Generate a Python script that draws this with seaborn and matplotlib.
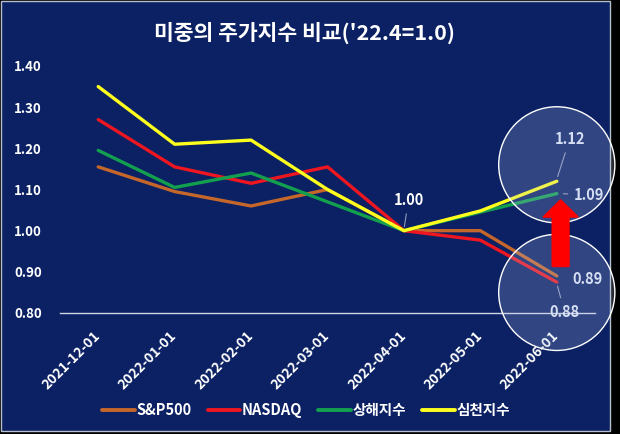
import numpy as np
import pandas as pd
import matplotlib
matplotlib.use("Agg")
import matplotlib.pyplot as plt
import matplotlib.patches as mpatches
import seaborn as sns

# 데이터 ('22.4 = 1.0 기준)
dates = ["2021-12-01", "2022-01-01", "2022-02-01", "2022-03-01",
         "2022-04-01", "2022-05-01", "2022-06-01"]
sp500 = [1.155, 1.095, 1.06, 1.10, 1.00, 1.00, 0.89]
nasdaq = [1.27, 1.155, 1.115, 1.155, 1.00, 0.977, 0.875]
shanghai = [1.195, 1.105, 1.14, 1.07, 1.00, 1.045, 1.09]
shenzhen = [1.35, 1.21, 1.22, 1.10, 1.00, 1.048, 1.12]
names = ["S&P500", "NASDAQ", "상해지수", "심천지수"]
colors = ["#c5662a", "#ee1620", "#13a04e", "#ffff1e"]
yticks = [0.80, 0.90, 1.00, 1.10, 1.20, 1.30, 1.40]

BG = "#0b2163"

df = pd.concat([
    pd.DataFrame({"date": dates, "value": v, "index": n})
    for n, v in zip(names, [sp500, nasdaq, shanghai, shenzhen])
])

sns.set_style("white")
plt.rcParams["font.family"] = ["Noto Sans CJK KR", "DejaVu Sans"]

fig = plt.figure(figsize=(6.2, 4.34), dpi=100, facecolor="black")
# 네이비 패널 (오른쪽/아래 검은 여백)
panel = mpatches.Rectangle((0.0015, 0.007), 609 / 620, 0.991,
                           transform=fig.transFigure, facecolor=BG,
                           edgecolor="#b8bfcc", linewidth=1.0, zorder=-10)
fig.add_artist(panel)

ax = fig.add_axes([60 / 620, (434 - 313) / 434, 535 / 620, (313 - 66) / 434])
ax.set_facecolor("none")
ax.set_zorder(1)

sns.lineplot(data=df, x="date", y="value", hue="index", hue_order=names,
             palette=colors, linewidth=2.4, sort=False, ax=ax, legend=True)

ax.set_xlim(-0.5, len(dates) - 0.5)
ax.set_ylim(0.8, 1.4)
ax.set_yticks(yticks)
ax.set_yticklabels([f"{t:.2f}" for t in yticks], color="white",
                   fontweight="bold", fontsize=9.5)
ax.set_xticks(range(len(dates)))
ax.set_xticklabels(dates, rotation=45, ha="right", va="center",
                   rotation_mode="anchor", color="white",
                   fontweight="bold", fontsize=10)
ax.tick_params(axis="both", length=0)
ax.tick_params(axis="y", pad=13)
ax.tick_params(axis="x", pad=15)
ax.set_xlabel("")
ax.set_ylabel("")
for side in ["top", "right", "left"]:
    ax.spines[side].set_visible(False)
ax.spines["bottom"].set_color("#d0d6e4")
ax.spines["bottom"].set_linewidth(1.0)

# 강조 원
for cy in [1.16, 0.85]:
    ax.add_patch(mpatches.Ellipse((6.0, cy), width=1.52, height=0.282,
                                  facecolor="#b8c8f0", alpha=0.22,
                                  edgecolor="none", clip_on=False, zorder=5))
    ax.add_patch(mpatches.Ellipse((6.0, cy), width=1.52, height=0.282,
                                  facecolor="none", edgecolor="white",
                                  linewidth=1.0, clip_on=False, zorder=5))

# 데이터 레이블
lab = dict(fontweight="bold", fontsize=10.5, ha="center", va="center")
lead = dict(arrowstyle="-", color="#8f9bb8", linewidth=0.8)
pale = "#dfe6f5"
ax.annotate("1.00", xy=(4.0, 1.003), xytext=(4.06, 1.075), color="white",
            arrowprops=lead, zorder=4, **lab)
ax.annotate("1.12", xy=(6.0, 1.125), xytext=(6.17, 1.223), color=pale,
            arrowprops=lead, zorder=4, annotation_clip=False, **lab)
ax.annotate("1.09", xy=(6.05, 1.09), xytext=(6.42, 1.087), color=pale,
            arrowprops=lead, zorder=4, annotation_clip=False, **lab)
ax.annotate("0.89", xy=(6.0, 0.89), xytext=(6.4, 0.883), color=pale,
            zorder=4, annotation_clip=False, **lab)
ax.annotate("0.88", xy=(6.0, 0.872), xytext=(6.1, 0.803), color=pale,
            arrowprops=lead, zorder=4, annotation_clip=False, **lab)

# 빨간 화살표
ax.add_patch(mpatches.FancyArrow(6.05, 0.913, 0, 0.162, width=0.22,
                                 head_width=0.46, head_length=0.042,
                                 length_includes_head=True, color="#ff0000",
                                 clip_on=False, zorder=6))

# 범례
handles, labels = ax.get_legend_handles_labels()
ax.legend_.remove()
leg = fig.legend(handles, labels, loc="center", ncol=4,
                 bbox_to_anchor=(306 / 620, 0.055), frameon=False,
                 handlelength=2.25, handletextpad=0.1, columnspacing=1.1,
                 prop={"weight": "bold", "size": 10.5})
for t in leg.get_texts():
    t.set_color("white")
for h in leg.get_lines():
    h.set_linewidth(2.8)

fig.text(304 / 620, 1 - 33 / 434, "미중의 주가지수 비교('22.4=1.0)",
         ha="center", va="center", color="white", fontweight="bold",
         fontsize=15.5)

fig.savefig("out.png", dpi=100, facecolor=fig.get_facecolor())
